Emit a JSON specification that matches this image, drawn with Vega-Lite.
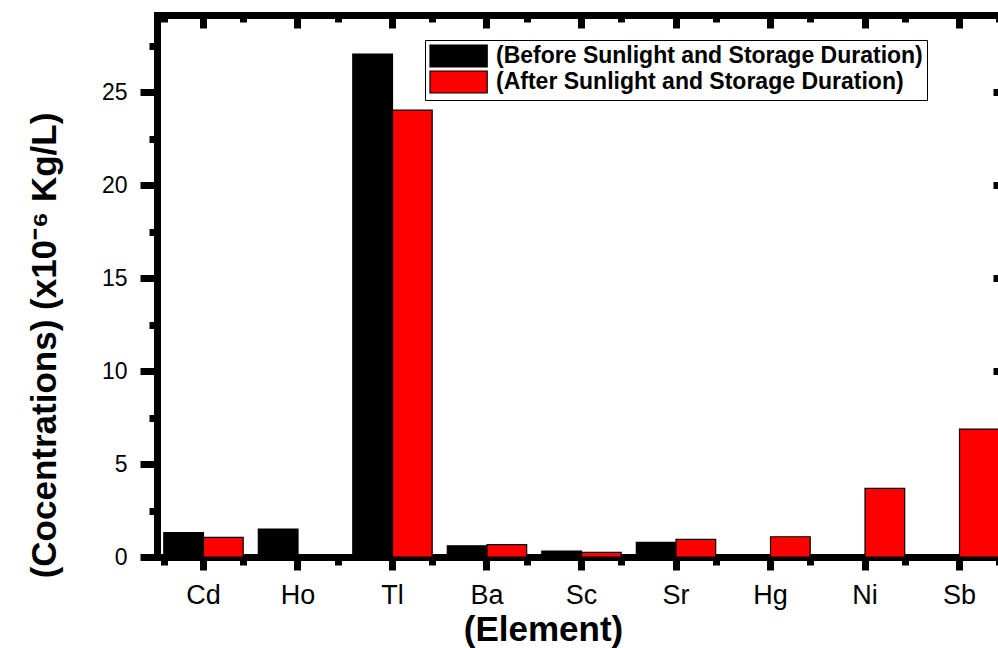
{
  "$schema": "https://vega.github.io/schema/vega-lite/v6.json",
  "width": 849,
  "height": 542,
  "autosize": {"type": "none"},
  "padding": {"left": 157, "top": 15, "right": -8, "bottom": 91},
  "background": "white",
  "config": {
    "view": {"stroke": null},
    "axis": {"grid": false, "zindex": 1, "domainColor": "black", "tickColor": "black", "labelColor": "black", "titleColor": "black", "labelFont": "Liberation Sans", "titleFont": "Liberation Sans"}
  },
  "data": {"values": [
    {"Element": "Cd", "Condition": "(Before Sunlight and Storage Duration)", "Value": 1.31},
    {"Element": "Cd", "Condition": "(After Sunlight and Storage Duration)", "Value": 1.06},
    {"Element": "Ho", "Condition": "(Before Sunlight and Storage Duration)", "Value": 1.5},
    {"Element": "Ho", "Condition": "(After Sunlight and Storage Duration)", "Value": 0},
    {"Element": "Tl", "Condition": "(Before Sunlight and Storage Duration)", "Value": 27.04},
    {"Element": "Tl", "Condition": "(After Sunlight and Storage Duration)", "Value": 24.03},
    {"Element": "Ba", "Condition": "(Before Sunlight and Storage Duration)", "Value": 0.6},
    {"Element": "Ba", "Condition": "(After Sunlight and Storage Duration)", "Value": 0.66},
    {"Element": "Sc", "Condition": "(Before Sunlight and Storage Duration)", "Value": 0.32},
    {"Element": "Sc", "Condition": "(After Sunlight and Storage Duration)", "Value": 0.25},
    {"Element": "Sr", "Condition": "(Before Sunlight and Storage Duration)", "Value": 0.79},
    {"Element": "Sr", "Condition": "(After Sunlight and Storage Duration)", "Value": 0.95},
    {"Element": "Hg", "Condition": "(Before Sunlight and Storage Duration)", "Value": 0},
    {"Element": "Hg", "Condition": "(After Sunlight and Storage Duration)", "Value": 1.09},
    {"Element": "Ni", "Condition": "(Before Sunlight and Storage Duration)", "Value": 0},
    {"Element": "Ni", "Condition": "(After Sunlight and Storage Duration)", "Value": 3.69},
    {"Element": "Sb", "Condition": "(Before Sunlight and Storage Duration)", "Value": 0},
    {"Element": "Sb", "Condition": "(After Sunlight and Storage Duration)", "Value": 6.88}
  ]},
  "resolve": {"axis": {"x": "independent", "y": "independent"}},
  "layer": [
    {
      "mark": {"type": "bar", "stroke": "black", "strokeWidth": 1.2},
      "encoding": {
        "x": {
          "field": "Element", "type": "nominal", "sort": null,
          "scale": {"paddingInner": 0.16, "paddingOuter": 0.072},
          "axis": {"orient": "bottom", "domain": true, "domainWidth": 7, "domainCap": "square", "ticks": true, "tickSize": 13, "tickWidth": 7, "labelFontSize": 27, "labelPadding": 12, "labelAngle": 0, "title": "(Element)", "titleFontSize": 35, "titleFontWeight": "bold", "titleX": 386, "titleY": 83, "titleAlign": "center", "titleBaseline": "alphabetic"}
        },
        "xOffset": {"field": "Condition", "type": "nominal", "scale": {"domain": ["(Before Sunlight and Storage Duration)", "(After Sunlight and Storage Duration)"]}},
        "y": {
          "field": "Value", "type": "quantitative",
          "scale": {"domain": [0, 29.14], "nice": false},
          "axis": {"orient": "left", "values": [0, 2.5, 5, 7.5, 10, 12.5, 15, 17.5, 20, 22.5, 25, 27.5], "domain": true, "domainWidth": 7, "domainCap": "square", "tickWidth": 7, "tickSize": {"condition": {"test": "datum.value % 5 === 0", "value": 17}, "value": 8}, "labelExpr": "datum.value % 5 === 0 ? format(datum.value, 'd') : ''", "labelFontSize": 23, "labelPadding": 13, "title": "(Cocentrations) (x10⁻⁶  Kg/L)", "titleFontSize": 35, "titleFontWeight": "bold", "titleX": -102, "titleY": 330, "titleAngle": 270, "titleAlign": "center", "titleBaseline": "alphabetic"}
        },
        "color": {
          "field": "Condition", "type": "nominal",
          "scale": {"domain": ["(Before Sunlight and Storage Duration)", "(After Sunlight and Storage Duration)"], "range": ["#000000", "#FF0000"]},
          "legend": {"title": null, "orient": "none", "legendX": 268, "legendY": 25, "direction": "vertical", "symbolType": "M-1,-1H4.2V1H-1Z", "symbolSize": 484, "symbolStrokeColor": "black", "symbolStrokeWidth": 1.2, "symbolOpacity": 1, "labelFont": "Liberation Sans", "labelFontSize": 23, "labelFontWeight": "bold", "labelColor": "black", "labelLimit": 1000, "labelOffset": 43, "padding": 4, "rowPadding": -2, "strokeColor": "black", "fillColor": "white", "zindex": 2}
        }
      }
    },
    {
      "mark": {"type": "bar", "opacity": 0},
      "encoding": {
        "x": {"field": "Element", "type": "nominal", "sort": null, "axis": {"orient": "bottom", "domain": false, "tickBand": "extent", "tickSize": 8, "tickWidth": 7, "labels": false, "title": null}},
        "xOffset": {"field": "Condition", "type": "nominal"},
        "y": {"field": "Value", "type": "quantitative", "axis": {"orient": "right", "values": [0, 5, 10, 15, 20, 25], "domain": true, "domainWidth": 7, "domainCap": "square", "tickSize": -13, "tickWidth": 7, "labels": false, "title": null}}
      }
    },
    {
      "mark": {"type": "bar", "opacity": 0},
      "encoding": {
        "x": {"field": "Element", "type": "nominal", "sort": null, "axis": {"orient": "top", "domain": true, "domainWidth": 7, "domainCap": "square", "tickSize": -13, "tickWidth": 7, "labels": false, "title": null}},
        "xOffset": {"field": "Condition", "type": "nominal"},
        "y": {"field": "Value", "type": "quantitative", "axis": null}
      }
    },
    {
      "mark": {"type": "bar", "opacity": 0},
      "encoding": {
        "x": {"field": "Element", "type": "nominal", "sort": null, "axis": {"orient": "top", "domain": false, "tickBand": "extent", "tickSize": -7, "tickWidth": 7, "labels": false, "title": null}},
        "xOffset": {"field": "Condition", "type": "nominal"},
        "y": {"field": "Value", "type": "quantitative", "axis": null}
      }
    }
  ]
}
